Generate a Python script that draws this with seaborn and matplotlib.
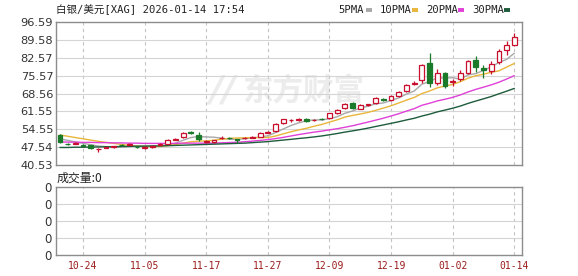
import numpy as np
import pandas as pd
import matplotlib
matplotlib.use("Agg")
import matplotlib.pyplot as plt
from matplotlib.lines import Line2D
import seaborn as sns

# ---------------- data ----------------
title = "白银/美元[XAG] 2026-01-14 17:54"
opens = [52.3, 48.8, 48.9, 48.3, 48.2, 46.7, 47.2, 47.5, 48.5, 48.5,
         47.6, 47.2, 47.6, 48.4, 48.8, 50.4, 51.4, 53.5, 52.3, 49.6,
         49.5, 51.0, 51.3, 50.6, 51.0, 51.3, 51.6, 53.2, 53.8, 56.9,
         58.0, 58.2, 58.7, 58.0, 58.6, 58.8, 60.8, 62.8, 64.7, 62.5,
         64.1, 64.7, 66.5, 66.0, 67.6, 69.5, 72.3, 73.8, 80.4, 72.8,
         76.5, 73.0, 74.1, 76.7, 81.7, 78.7, 77.5, 81.0, 85.6, 87.6]
closes = [49.6, 48.6, 49.1, 48.1, 47.1, 46.9, 47.4, 47.8, 48.3, 48.8,
          47.4, 47.5, 47.9, 48.8, 50.5, 50.8, 53.2, 53.2, 50.7, 49.8,
          50.2, 51.3, 51.1, 50.3, 51.3, 51.6, 53.2, 53.5, 56.6, 58.4,
          58.3, 58.4, 57.6, 58.3, 58.4, 60.8, 62.1, 64.4, 62.8, 64.2,
          64.4, 66.7, 66.2, 67.6, 69.3, 71.9, 72.6, 79.7, 72.8, 76.5,
          71.5, 73.3, 76.7, 81.4, 78.8, 77.9, 80.1, 85.3, 87.6, 90.8]
highs = [52.7, 49.2, 49.5, 48.6, 48.4, 47.3, 47.7, 48.1, 48.8, 49.1,
         47.8, 47.9, 48.1, 49.0, 50.8, 51.0, 53.5, 54.0, 53.3, 50.3,
         50.5, 51.8, 51.6, 50.8, 51.5, 51.8, 53.5, 53.9, 56.9, 58.7,
         58.4, 58.8, 59.0, 58.7, 58.8, 61.0, 62.4, 64.8, 65.3, 64.6,
         64.5, 67.0, 66.9, 68.0, 69.7, 72.2, 73.3, 80.0, 84.6, 78.0,
         76.9, 74.2, 77.8, 81.8, 83.3, 79.7, 81.2, 86.0, 89.3, 92.2]
lows = [49.3, 48.3, 48.6, 47.8, 46.7, 45.8, 47.0, 47.3, 48.0, 48.2,
        47.1, 46.9, 47.3, 48.2, 48.6, 50.3, 51.2, 52.8, 50.1, 49.3,
        49.3, 50.8, 50.9, 49.0, 50.9, 51.1, 51.4, 52.9, 53.5, 56.6,
        57.5, 57.8, 57.2, 57.8, 58.2, 58.6, 60.6, 62.6, 62.3, 62.3,
        63.5, 64.5, 65.8, 65.8, 67.3, 69.3, 71.8, 72.8, 71.2, 71.8,
        70.6, 71.5, 73.6, 76.3, 77.1, 74.5, 76.2, 80.2, 83.7, 87.3]

# moving-average values before a full window is visible
ma5_head = [50.8, 50.2, 49.6, 49.0]
ma10_head = [52.3, 51.8, 51.3, 50.8, 50.3, 49.8, 49.4, 49.0, 48.6]
ma20_head = [49.6, 49.5, 49.5, 49.4, 49.4, 49.3, 49.3, 49.2, 49.2, 49.1,
             49.1, 49.0, 49.0, 49.0, 49.0, 49.0, 49.1, 49.1, 49.1]
ma30_head = [47.4, 47.4, 47.5, 47.5, 47.6, 47.6, 47.7, 47.7, 47.8, 47.8,
             47.9, 47.9, 48.0, 48.0, 48.1, 48.2, 48.3, 48.4, 48.5, 48.6,
             48.7, 48.8, 48.9, 49.0, 49.1, 49.3, 49.5, 49.7, 50.0]

ma_names = ["5PMA", "10PMA", "20PMA", "30PMA"]
ma_windows = [5, 10, 20, 30]
ma_heads = [ma5_head, ma10_head, ma20_head, ma30_head]
ma_colors = ["#a8a8a8", "#e8b63a", "#e040d8", "#1d5c3c"]

tick_pos = [3, 11, 19, 27, 35, 43, 51, 59]
tick_labels = ["10-24", "11-05", "11-17", "11-27", "12-09", "12-19", "01-02", "01-14"]
price_ticks = [40.53, 47.54, 54.55, 61.55, 68.56, 75.57, 82.57, 89.58, 96.59]
vol_ticks = [0, 1, 2, 3, 4]
vol_tick_labels = ["0", "0", "0", "0", "0"]
vol_label = "成交量:0"
watermark = "东方财富"

# ---------------- style ----------------
sns.set_style("white")
plt.rcParams["font.family"] = ["DejaVu Sans", "Noto Sans CJK SC"]

RED = "#c8102e"
GREEN = "#1a7a2a"
FRAME = "#8c8c8c"
GRID = "#d4d4d4"
MONO = ["DejaVu Sans Mono", "Noto Sans CJK SC"]

W, H = 578, 276
fig = plt.figure(figsize=(W / 100, H / 100), dpi=100)
fig.patch.set_facecolor("white")
L, R = 56, 522
ax = fig.add_axes([L / W, 1 - 165 / H, (R - L) / W, (165 - 22) / H])
axv = fig.add_axes([L / W, 1 - 255 / H, (R - L) / W, (255 - 186.7) / H])

n = len(closes)
x = np.arange(n)
df = pd.DataFrame({"x": x, "open": opens, "close": closes, "high": highs, "low": lows})

# moving averages in long form
rows = []
for name, win, head in zip(ma_names, ma_windows, ma_heads):
    vals = df["close"].rolling(win).mean().to_numpy()
    vals[:len(head)] = head
    rows.append(pd.DataFrame({"x": x, "value": vals, "ma": name}))
ma_df = pd.concat(rows, ignore_index=True)

# watermark
ax.text(0.40, 0.52, watermark, transform=ax.transAxes, fontsize=22, fontweight="bold",
        color="#ececec", family=["Noto Sans CJK SC"], ha="left", va="center", zorder=0)
ax.text(0.33, 0.52, "//", transform=ax.transAxes, fontsize=26, fontweight="bold",
        color="#ececec", ha="left", va="center", zorder=0, style="italic")

# MA lines
sns.lineplot(data=ma_df, x="x", y="value", hue="ma", palette=dict(zip(ma_names, ma_colors)),
             hue_order=ma_names, ax=ax, linewidth=1.0, legend=False, zorder=2)

# candles
bw = 0.62
for i, r in df.iterrows():
    o, c, h, l = r["open"], r["close"], r["high"], r["low"]
    up = c >= o
    col = RED if up else GREEN
    lo_b, hi_b = min(o, c), max(o, c)
    hgt = max(hi_b - lo_b, 0.12)
    ax.vlines(r["x"], l, lo_b, color=col, linewidth=0.9, zorder=3)
    ax.vlines(r["x"], hi_b, h, color=col, linewidth=0.9, zorder=3)
    ax.bar(r["x"], hgt, bottom=lo_b, width=bw, facecolor="white" if up else col,
           edgecolor=col, linewidth=0.9, zorder=4)

xlim = (-0.506, 60.0)
for a in (ax, axv):
    a.set_xlim(*xlim)
    a.set_xlabel("")
    a.set_ylabel("")
    for s in a.spines.values():
        s.set_color(FRAME)
        s.set_linewidth(1.0)
    for p in tick_pos:
        a.axvline(p, color="#c4c4c4", linewidth=0.8, linestyle=(0, (3, 3)), zorder=1)
    a.tick_params(length=0)

ax.set_ylim(price_ticks[0], price_ticks[-1])
ax.set_yticks(price_ticks)
ax.set_yticklabels([f"{v:.2f}" for v in price_ticks], fontsize=8.2, color="#333333")
for v in price_ticks[1:-1]:
    ax.axhline(v, color=GRID, linewidth=0.8, zorder=1)
ax.set_xticks([])
ax.tick_params(axis="y", pad=2)

axv.set_ylim(vol_ticks[0], vol_ticks[-1])
axv.set_yticks(vol_ticks)
axv.set_yticklabels(vol_tick_labels, fontsize=8.5, color="#333333")
for v in vol_ticks[1:-1]:
    axv.axhline(v, color=GRID, linewidth=0.8, zorder=1)
axv.set_xticks(tick_pos)
axv.set_xticklabels(tick_labels, fontsize=7, color="#9b1c1c", family=MONO)
axv.tick_params(axis="y", pad=3)
axv.tick_params(axis="x", pad=4)

# title and labels
fig.text(56 / W, 1 - 10 / H, title, fontsize=7.6, family=MONO, color="#222222",
         ha="left", va="center")
fig.text(57 / W, 1 - 178 / H, vol_label, fontsize=8.6, family=["Noto Sans CJK SC"],
         color="#222222", ha="left", va="center")

# legend
leg_text_x = [338, 380, 426, 472]
leg_dash_x = [366, 412, 458, 504]
for name, col, tx, dx in zip(ma_names, ma_colors, leg_text_x, leg_dash_x):
    fig.text(tx / W, 1 - 10 / H, name, fontsize=7.6, family=MONO, color="#222222",
             ha="left", va="center")
    fig.add_artist(Line2D([dx / W, (dx + 6) / W], [1 - 10 / H, 1 - 10 / H],
                          transform=fig.transFigure, color=col, linewidth=2.8,
                          solid_capstyle="butt"))

fig.savefig("out.png", dpi=100, facecolor="white")
